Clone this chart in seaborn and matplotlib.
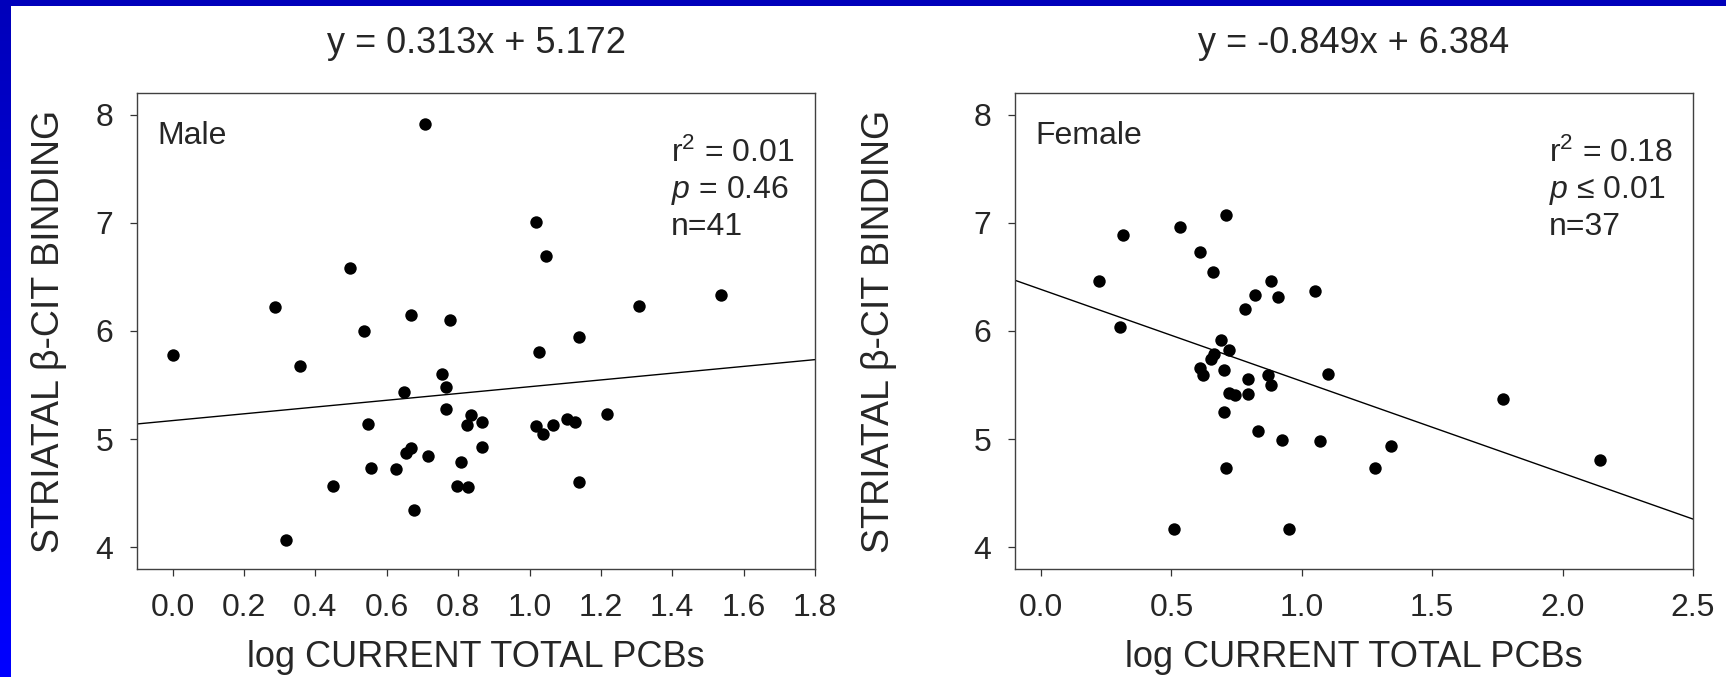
import numpy as np
import pandas as pd
import seaborn as sns
import matplotlib.pyplot as plt
from matplotlib.patches import Rectangle

# values
male_pcb = [0.708, 0.498, 0.287, 0.668, 0.777, 0.537, 0.0, 0.357, 0.756, 0.767,
            0.647, 0.767, 0.837, 0.826, 0.868, 0.868, 0.548, 0.668, 0.655, 0.716,
            0.557, 0.626, 0.807, 0.448, 0.796, 0.828, 0.677, 0.318, 1.017, 1.047,
            1.537, 1.306, 1.138, 1.027, 1.017, 1.038, 1.067, 1.106, 1.127, 1.218,
            1.138]
male_cit = [7.91, 6.58, 6.22, 6.15, 6.10, 6.00, 5.78, 5.68, 5.60, 5.48,
            5.44, 5.28, 5.22, 5.13, 5.16, 4.93, 5.14, 4.92, 4.87, 4.84,
            4.73, 4.72, 4.79, 4.57, 4.57, 4.56, 4.35, 4.07, 7.01, 6.69,
            6.33, 6.23, 5.94, 5.81, 5.12, 5.05, 5.13, 5.19, 5.16, 5.23,
            4.60]

female_pcb = [0.711, 0.533, 0.313, 0.610, 0.660, 0.221, 0.881, 1.051, 0.821, 0.910,
              0.782, 0.303, 0.690, 0.722, 0.662, 0.651, 0.610, 0.621, 0.700, 0.792,
              0.872, 0.881, 1.102, 0.722, 0.745, 0.792, 0.702, 0.830, 0.922, 1.070,
              1.341, 0.711, 1.281, 0.511, 0.951, 1.771, 2.142]
female_cit = [7.07, 6.96, 6.89, 6.73, 6.55, 6.46, 6.46, 6.37, 6.33, 6.31,
              6.20, 6.04, 5.92, 5.82, 5.79, 5.74, 5.66, 5.59, 5.64, 5.56,
              5.59, 5.50, 5.60, 5.43, 5.41, 5.42, 5.25, 5.08, 4.99, 4.98,
              4.94, 4.73, 4.73, 4.17, 4.17, 5.37, 4.81]

groups = ["Male", "Female"]
slopes = [0.313, -0.849]
intercepts = [5.172, 6.384]
r2_text = ["r$^2$ = 0.01", "r$^2$ = 0.18"]
p_text = ["$\\mathit{p}$ = 0.46", "$\\mathit{p}$ \u2264 0.01"]
n_text = ["n=41", "n=37"]
x_ticks = [[0.0, 0.2, 0.4, 0.6, 0.8, 1.0, 1.2, 1.4, 1.6, 1.8],
           [0.0, 0.5, 1.0, 1.5, 2.0, 2.5]]
x_limits = [(-0.1, 1.8), (-0.1, 2.5)]
y_ticks = [4, 5, 6, 7, 8]

df = pd.concat([
    pd.DataFrame({"pcb": male_pcb, "cit": male_cit, "sex": "Male"}),
    pd.DataFrame({"pcb": female_pcb, "cit": female_cit, "sex": "Female"}),
])

sns.set_style("ticks")
plt.rcParams["font.family"] = ["Liberation Sans", "DejaVu Sans"]
plt.rcParams["mathtext.fontset"] = "custom"
plt.rcParams["mathtext.rm"] = "Liberation Sans"
plt.rcParams["mathtext.it"] = "Liberation Sans:italic"

fig = plt.figure(figsize=(17.26, 6.77), dpi=100)
fig.patch.set_facecolor("white")

# blue slide frame (left strip with gradient, top strip)
grad_ax = fig.add_axes([0, 0, 10 / 1726, 1])
grad_ax.imshow(np.linspace(0, 1, 100).reshape(-1, 1), aspect="auto",
               cmap=sns.blend_palette(["#0000BB", "#0000FF"], as_cmap=True))
grad_ax.axis("off")
fig.patches.append(Rectangle((0, 1 - 6 / 677), 1, 6 / 677, transform=fig.transFigure,
                             facecolor="#0000BB", edgecolor="none", zorder=5))

lefts = [137 / 1726, 1015 / 1726]
for i, g in enumerate(groups):
    ax = fig.add_axes([lefts[i], 1 - 569 / 677, 678 / 1726, 476 / 677])
    sub = df[df["sex"] == g]
    sns.scatterplot(data=sub, x="pcb", y="cit", ax=ax, color="black",
                    s=80, linewidth=0, legend=False, zorder=3)
    ax.axline((0, intercepts[i]), slope=slopes[i], color="black", lw=1.0, zorder=2)

    ax.set_xlim(*x_limits[i])
    ax.set_ylim(3.8, 8.2)
    ax.set_xticks(x_ticks[i])
    ax.set_xticklabels([f"{t:.1f}" for t in x_ticks[i]])
    ax.set_yticks(y_ticks)
    ax.tick_params(labelsize=23, length=5, width=0.9, pad=12, color="#333333")
    for sp in ax.spines.values():
        sp.set_color("#404040")
        sp.set_linewidth(1.0)

    ax.set_xlabel("log CURRENT TOTAL PCBs", fontsize=26, va="center")
    ax.xaxis.set_label_coords(0.5, -0.185)
    ax.set_ylabel("STRIATAL \u03b2-CIT BINDING", fontsize=27, va="center")
    ax.yaxis.set_label_coords(-0.13 if i == 0 else -0.20, 0.5)

    sign = "+" if intercepts[i] >= 0 else "-"
    ax.text(0.5, 1.105, f"y = {slopes[i]}x {sign} {intercepts[i]}",
            transform=ax.transAxes, ha="center", va="center", fontsize=26)

    ax.text(0.03, 0.893, g, transform=ax.transAxes, fontsize=23, va="baseline")
    ax.text(0.787, 0.855, r2_text[i], transform=ax.transAxes, fontsize=23, va="baseline")
    ax.text(0.787, 0.779, p_text[i], transform=ax.transAxes, fontsize=23, va="baseline")
    ax.text(0.787, 0.702, n_text[i], transform=ax.transAxes, fontsize=23, va="baseline")

fig.savefig("out.png", dpi=100, facecolor="white")
